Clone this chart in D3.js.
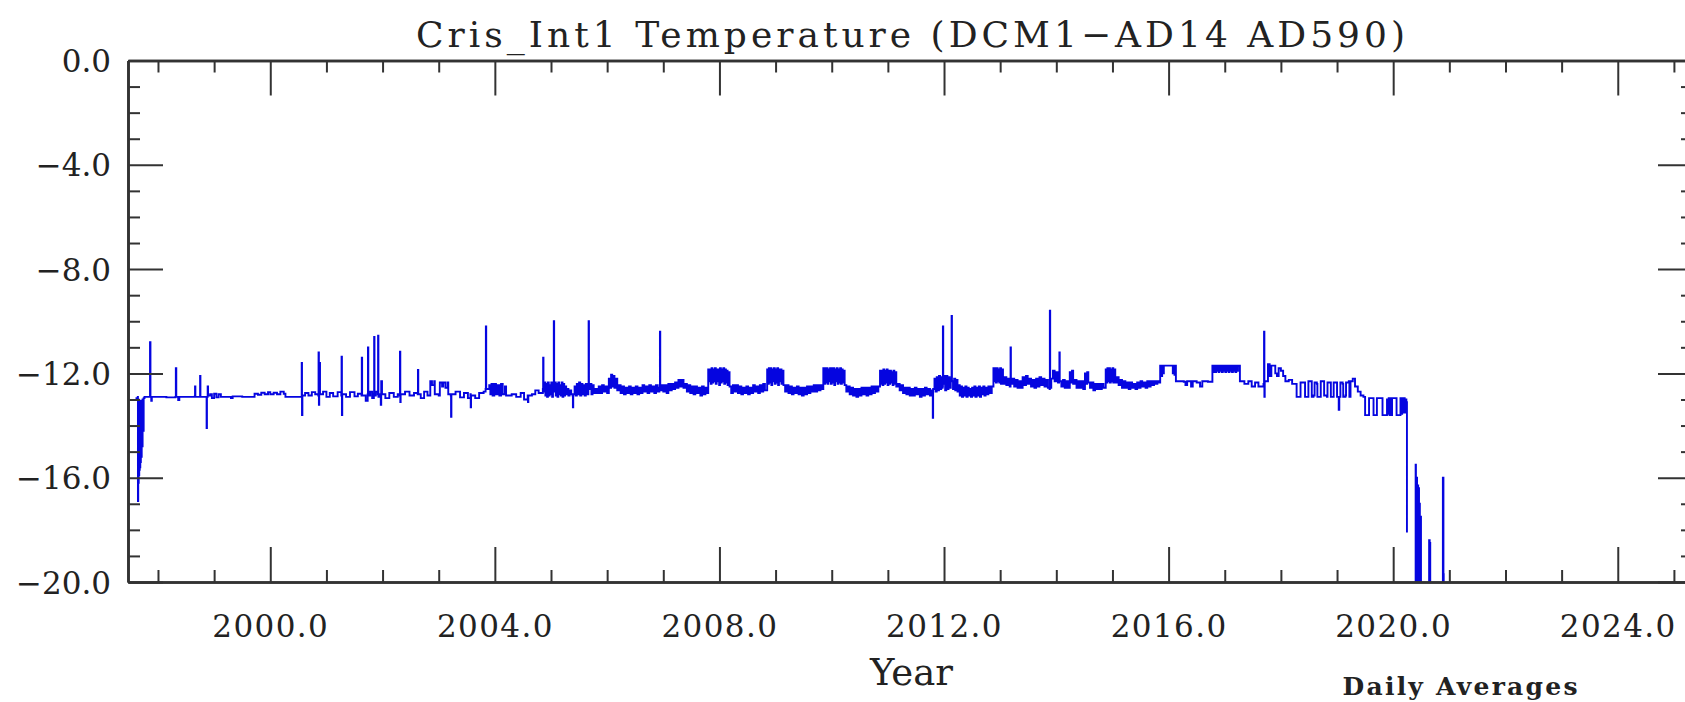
<!DOCTYPE html>
<html>
<head>
<meta charset="utf-8">
<script src="https://cdn.jsdelivr.net/npm/d3@7"></script>
<style>
  html, body { margin: 0; padding: 0; background: #fff; }
  svg { display: block; }
  .axis text { font-family: "DejaVu Serif", serif; fill: #222; }
</style>
</head>
<body>
<svg id="chart" width="1685" height="702"></svg>
<script>
// ---------------- DATA ----------------
const chartTitle = "Cris_Int1 Temperature (DCM1\u2212AD14 AD590)";
const xAxisTitle = "Year";
const noteText = "Daily Averages";
const xDomain = [1997.466, 2025.34];
const yDomain = [-20, 0];
const xMajorTicks = [2000, 2004, 2008, 2012, 2016, 2020, 2024];
const xMinorTicks = [1998,1999,2001,2002,2003,2005,2006,2007,2009,2010,2011,2013,2014,2015,2017,2018,2019,2021,2022,2023,2025];
const yMajorTicks = [0, -4, -8, -12, -16, -20];
const yMinorTicks = [-1,-2,-3,-5,-6,-7,-9,-10,-11,-13,-14,-15,-17,-18,-19];

// daily average temperature samples [year, degC] (null = data gap)
const era1997 = [
  [1997.600,-12.95],[1997.640,-12.90],[1997.643,-16.90],[1997.648,-13.00],[1997.652,-16.20],[1997.657,-13.05],
  [1997.661,-15.90],[1997.666,-13.05],[1997.670,-15.70],[1997.675,-13.05],[1997.680,-15.60],[1997.685,-13.05],
  [1997.690,-15.40],[1997.695,-13.05],[1997.702,-15.20],[1997.710,-13.05],[1997.718,-14.80],[1997.726,-13.00],
  [1997.735,-14.20],[1997.745,-12.95],[1997.760,-12.90],
  [1997.850,-12.90],[1997.858,-10.80],[1997.866,-12.90],[1997.880,-13.05],[1997.890,-12.90],
  [1998.000,-12.90],[1998.150,-12.92],[1998.310,-12.90],[1998.318,-11.80],[1998.326,-12.90],[1998.360,-13.02],[1998.380,-12.90],
  [1998.600,-12.90],[1998.655,-12.88],[1998.660,-12.50],[1998.666,-12.90],[1998.745,-12.90],[1998.750,-12.10],[1998.756,-12.90],
  [1998.860,-12.90],[1998.866,-14.10],[1998.872,-12.90],[1998.885,-12.50],[1998.892,-12.85],
  [1998.930,-12.80],[1998.960,-12.95],[1999.000,-12.78],[1999.040,-12.92],[1999.080,-12.80],[1999.120,-12.90],
  [1999.200,-12.90],[1999.300,-12.95],[1999.330,-12.88],[1999.500,-12.90],[1999.700,-12.90],[1999.720,-12.78],
  [1999.780,-12.82],[1999.840,-12.74],[1999.900,-12.80],[1999.960,-12.72],[2000.000,-12.80]
];
const era2000 = [
  [2000.060,-12.74],[2000.120,-12.80],[2000.180,-12.70],[2000.240,-12.78],[2000.270,-12.90],[2000.500,-12.90],
  [2000.555,-12.90],[2000.560,-11.60],[2000.565,-13.60],[2000.572,-12.85],[2000.620,-12.75],[2000.680,-12.85],
  [2000.740,-12.72],[2000.800,-12.80],[2000.855,-12.85],[2000.860,-11.20],[2000.866,-13.20],[2000.872,-12.80],
  [2000.880,-11.60],[2000.886,-12.80],[2000.940,-12.70],[2001.000,-12.90],[2001.060,-12.75],[2001.120,-12.88],
  [2001.200,-12.72],[2001.265,-12.85],[2001.270,-11.36],[2001.276,-13.60],[2001.282,-12.80],[2001.350,-12.90],
  [2001.420,-12.72],[2001.500,-12.88],[2001.560,-12.78],[2001.625,-12.85],[2001.630,-11.40],[2001.636,-12.85],
  [2001.700,-13.05],[2001.735,-12.80],[2001.740,-11.00],[2001.746,-12.85],[2001.780,-12.70],[2001.815,-12.95],
  [2001.845,-12.80],[2001.850,-10.60],[2001.856,-12.85],[2001.880,-12.70],[2001.915,-12.80],[2001.920,-10.55],
  [2001.926,-12.90],[2001.960,-12.80],[2001.968,-13.20],[2001.976,-12.30],[2001.990,-12.80],[2002.050,-12.95],
  [2002.120,-12.75],[2002.200,-12.90],[2002.270,-12.80],[2002.305,-12.85],[2002.310,-11.17],[2002.316,-13.10],
  [2002.322,-12.80],[2002.400,-12.70],[2002.480,-12.85]
];
const era2002 = [
  [2002.560,-12.75],[2002.625,-12.80],[2002.630,-11.87],[2002.636,-12.80],[2002.680,-12.95],[2002.740,-12.70],
  [2002.800,-12.85],[2002.850,-12.30],[2002.880,-12.45],[2002.920,-12.30],[2002.930,-12.80],[2003.000,-12.85],
  [2003.020,-12.35],[2003.060,-12.50],[2003.080,-12.35],[2003.120,-12.55],[2003.160,-12.35],[2003.170,-12.80],
  [2003.215,-12.85],[2003.220,-13.66],[2003.226,-12.80],[2003.300,-12.70],[2003.380,-12.92],[2003.450,-12.75],
  [2003.520,-12.95],[2003.565,-12.80],[2003.570,-13.30],[2003.576,-12.85],[2003.650,-12.95],[2003.720,-12.75],
  [2003.800,-12.70],[2003.835,-12.60],[2003.840,-10.20],[2003.846,-12.60],[2003.900,-12.45],[2003.920,-12.80],
  [2003.940,-12.40],[2003.960,-12.85],[2003.990,-12.40],[2004.020,-12.80],[2004.050,-12.45],[2004.080,-12.85],
  [2004.110,-12.40],[2004.140,-12.80],[2004.180,-12.50],[2004.200,-12.85],[2004.300,-12.80],[2004.380,-12.90],
  [2004.460,-12.75],[2004.520,-13.00],[2004.585,-12.85],[2004.590,-13.10],[2004.596,-12.85],[2004.660,-12.80],
  [2004.720,-12.65],[2004.780,-12.75],[2004.855,-12.60],[2004.860,-11.40],[2004.866,-12.70]
];
const era2005 = [
  [2004.880,-12.35],[2004.900,-12.85],[2004.915,-12.40],[2004.930,-12.90],[2004.945,-12.35],[2004.960,-12.85],
  [2004.975,-12.45],[2004.990,-12.80],[2005.005,-12.35],[2005.020,-12.90],[2005.035,-12.40],[2005.045,-12.70],
  [2005.050,-10.00],[2005.056,-12.70],[2005.070,-12.35],[2005.085,-12.85],[2005.100,-12.40],[2005.115,-12.90],
  [2005.130,-12.35],[2005.145,-12.80],[2005.160,-12.45],[2005.175,-12.85],[2005.190,-12.35],[2005.205,-12.90],
  [2005.220,-12.40],[2005.235,-12.85],[2005.250,-12.50],[2005.270,-12.80],[2005.290,-12.60],[2005.310,-12.85],
  [2005.330,-12.65],[2005.360,-12.80],[2005.385,-12.85],[2005.390,-13.30],[2005.396,-12.80],[2005.420,-12.50],
  [2005.440,-12.85],[2005.460,-12.40],[2005.480,-12.80],[2005.500,-12.35],[2005.520,-12.85],[2005.540,-12.40],
  [2005.560,-12.80],[2005.580,-12.45],[2005.600,-12.85],[2005.620,-12.40],[2005.640,-12.80],[2005.665,-12.50],
  [2005.670,-10.00],[2005.676,-12.60],[2005.700,-12.40],[2005.720,-12.80],[2005.740,-12.45],[2005.760,-12.75],
  [2005.790,-12.60],[2005.820,-12.75]
];
const era2006 = [
  [2005.850,-12.50],[2005.880,-12.75],[2005.910,-12.45],[2005.940,-12.70],[2005.970,-12.50],[2006.000,-12.75],
  [2006.030,-12.20],[2006.050,-12.55],[2006.070,-12.05],[2006.090,-12.50],[2006.110,-12.10],[2006.130,-12.55],
  [2006.150,-12.20],[2006.180,-12.65],[2006.210,-12.45],[2006.240,-12.75],[2006.270,-12.50],[2006.300,-12.80],
  [2006.330,-12.55],[2006.360,-12.75],[2006.390,-12.50],[2006.420,-12.80],[2006.450,-12.55],[2006.480,-12.75],
  [2006.510,-12.50],[2006.540,-12.80],[2006.570,-12.55],[2006.600,-12.75],[2006.630,-12.45],[2006.660,-12.70],
  [2006.690,-12.50],[2006.720,-12.75],[2006.750,-12.45],[2006.780,-12.70],[2006.810,-12.50],[2006.840,-12.75],
  [2006.870,-12.45],[2006.900,-12.70],[2006.930,-12.55],[2006.940,-10.40],[2006.946,-12.65],[2006.970,-12.45],
  [2007.000,-12.70],[2007.030,-12.45],[2007.060,-12.75],[2007.090,-12.40],[2007.120,-12.65],[2007.150,-12.40],
  [2007.180,-12.60],[2007.210,-12.35],[2007.240,-12.55],[2007.270,-12.25],[2007.300,-12.50],[2007.330,-12.25],
  [2007.360,-12.55],[2007.390,-12.40],[2007.420,-12.70],[2007.450,-12.45],[2007.480,-12.75],[2007.510,-12.50],
  [2007.540,-12.80],[2007.570,-12.50],[2007.600,-12.75],[2007.630,-12.55],[2007.660,-12.85],[2007.690,-12.50],
  [2007.720,-12.80],[2007.750,-12.55],[2007.780,-12.75]
];
const box2008 = [
  [2007.800,-11.85],[2007.815,-12.30],[2007.830,-11.85],[2007.845,-12.40],[2007.860,-11.80],[2007.875,-12.35],
  [2007.890,-11.85],[2007.905,-12.30],[2007.920,-11.80],[2007.935,-12.40],[2007.950,-11.85],[2007.965,-12.30],
  [2007.980,-11.85],[2007.995,-12.45],[2008.010,-11.80],[2008.025,-12.35],[2008.040,-11.85],[2008.055,-12.30],
  [2008.070,-11.80],[2008.085,-12.40],[2008.100,-11.85],[2008.115,-12.35],[2008.130,-11.90],[2008.145,-12.45],
  [2008.160,-11.95],[2008.180,-12.50],[2008.210,-12.75],[2008.240,-12.45],[2008.270,-12.70],[2008.300,-12.45],
  [2008.330,-12.75],[2008.360,-12.50],[2008.390,-12.80],[2008.420,-12.55],[2008.450,-12.75],[2008.480,-12.50],
  [2008.510,-12.80],[2008.540,-12.55],[2008.570,-12.75],[2008.600,-12.45],[2008.630,-12.70],[2008.660,-12.50],
  [2008.690,-12.75],[2008.720,-12.45],[2008.750,-12.70],[2008.780,-12.40],[2008.810,-12.65]
];
const box2009 = [
  [2008.850,-11.85],[2008.865,-12.40],[2008.880,-11.80],[2008.895,-12.35],[2008.910,-11.80],[2008.925,-12.45],
  [2008.940,-11.85],[2008.955,-12.30],[2008.970,-11.80],[2008.985,-12.40],[2009.000,-11.85],[2009.015,-12.35],
  [2009.030,-11.80],[2009.045,-12.45],[2009.060,-11.85],[2009.075,-12.30],[2009.090,-11.85],[2009.105,-12.40],
  [2009.120,-11.90],[2009.140,-12.45],[2009.170,-12.70],[2009.200,-12.45],[2009.230,-12.75],[2009.260,-12.50],
  [2009.290,-12.80],[2009.320,-12.55],[2009.350,-12.75],[2009.380,-12.50],[2009.410,-12.80],[2009.440,-12.55],
  [2009.470,-12.85],[2009.500,-12.55],[2009.530,-12.80],[2009.560,-12.50],[2009.590,-12.75],[2009.620,-12.50],
  [2009.650,-12.70],[2009.680,-12.45],[2009.710,-12.70],[2009.740,-12.45],[2009.770,-12.65],[2009.800,-12.45],
  [2009.830,-12.60]
];
const box2010 = [
  [2009.850,-11.80],[2009.865,-12.40],[2009.880,-11.80],[2009.895,-12.35],[2009.910,-11.80],[2009.925,-12.40],
  [2009.940,-11.85],[2009.955,-12.30],[2009.970,-11.80],[2009.985,-12.40],[2010.000,-11.80],[2010.015,-12.35],
  [2010.030,-11.80],[2010.045,-12.45],[2010.060,-11.85],[2010.075,-12.30],[2010.090,-11.80],[2010.105,-12.40],
  [2010.120,-11.85],[2010.135,-12.35],[2010.150,-11.80],[2010.165,-12.40],[2010.180,-11.85],[2010.195,-12.35],
  [2010.210,-11.90],[2010.230,-12.45],[2010.260,-12.70],[2010.290,-12.50],[2010.320,-12.80],[2010.350,-12.55],
  [2010.380,-12.85],[2010.410,-12.60],[2010.440,-12.90],[2010.470,-12.60],[2010.500,-12.85],[2010.530,-12.55],
  [2010.560,-12.80],[2010.590,-12.55],[2010.620,-12.85],[2010.650,-12.55],[2010.680,-12.80],[2010.710,-12.50],
  [2010.740,-12.75],[2010.770,-12.50],[2010.800,-12.70],[2010.830,-12.50]
];
const box2011 = [
  [2010.860,-11.90],[2010.875,-12.40],[2010.890,-11.90],[2010.905,-12.45],[2010.920,-11.85],[2010.935,-12.40],
  [2010.950,-11.90],[2010.965,-12.35],[2010.980,-11.85],[2010.995,-12.45],[2011.010,-11.90],[2011.025,-12.40],
  [2011.040,-11.90],[2011.055,-12.35],[2011.070,-11.95],[2011.085,-12.45],[2011.100,-11.90],[2011.115,-12.40],
  [2011.130,-11.95],[2011.150,-12.50],[2011.180,-12.40],[2011.210,-12.65],[2011.240,-12.45],[2011.270,-12.75],
  [2011.300,-12.55],[2011.330,-12.80],[2011.360,-12.55],[2011.390,-12.85],[2011.420,-12.60],[2011.450,-12.85],
  [2011.480,-12.55],[2011.510,-12.80],[2011.540,-12.60],[2011.570,-12.90],[2011.600,-12.60],[2011.630,-12.85],
  [2011.660,-12.55],[2011.690,-12.80],[2011.720,-12.60],[2011.750,-12.85],[2011.780,-12.65],[2011.800,-13.70],
  [2011.806,-12.60]
];
const band2012 = [
  [2011.830,-12.20],[2011.850,-12.70],[2011.870,-12.15],[2011.890,-12.65],[2011.910,-12.10],[2011.930,-12.60],
  [2011.950,-12.15],[2011.970,-12.55],[2011.975,-12.50],[2011.980,-10.20],[2011.986,-12.40],[2012.000,-12.10],
  [2012.020,-12.65],[2012.040,-12.10],[2012.060,-12.60],[2012.080,-12.15],[2012.100,-12.55],[2012.120,-12.20],
  [2012.135,-9.80],[2012.141,-12.30],[2012.160,-12.60],[2012.180,-12.20],[2012.200,-12.65],[2012.220,-12.25],
  [2012.240,-12.70],[2012.260,-12.45],[2012.280,-12.85],[2012.300,-12.50],[2012.320,-12.90],[2012.340,-12.55],
  [2012.360,-12.85],[2012.380,-12.50],[2012.400,-12.90],[2012.420,-12.55],[2012.440,-12.85],[2012.460,-12.60],
  [2012.480,-12.90],[2012.500,-12.55],[2012.520,-12.85],[2012.540,-12.50],[2012.560,-12.90],[2012.580,-12.55],
  [2012.600,-12.85],[2012.620,-12.50],[2012.640,-12.90],[2012.660,-12.55],[2012.680,-12.80],[2012.700,-12.50],
  [2012.720,-12.85],[2012.740,-12.55],[2012.760,-12.80],[2012.790,-12.50],[2012.820,-12.75],[2012.850,-12.50]
];
const era2013 = [
  [2012.880,-11.80],[2012.895,-12.30],[2012.910,-11.80],[2012.925,-12.35],[2012.940,-11.80],[2012.955,-12.30],
  [2012.970,-11.85],[2012.985,-12.35],[2013.000,-11.80],[2013.015,-12.40],[2013.030,-11.85],[2013.050,-12.40],
  [2013.080,-12.15],[2013.110,-12.45],[2013.140,-12.20],[2013.170,-12.50],[2013.185,-11.00],[2013.191,-12.40],
  [2013.220,-12.20],[2013.250,-12.50],[2013.280,-12.25],[2013.310,-12.55],[2013.340,-12.30],[2013.370,-12.55],
  [2013.400,-12.15],[2013.430,-12.45],[2013.460,-12.10],[2013.490,-12.40],[2013.520,-12.20],[2013.550,-12.50],
  [2013.580,-12.25],[2013.610,-12.55],[2013.640,-12.20],[2013.670,-12.50],[2013.700,-12.15],[2013.730,-12.45],
  [2013.760,-12.20],[2013.790,-12.50],[2013.820,-12.25],[2013.850,-12.55],[2013.880,-12.60],[2013.885,-9.60],
  [2013.891,-12.55],[2013.910,-12.20],[2013.940,-11.90],[2013.970,-12.30],[2014.000,-11.95],[2014.030,-12.35],
  [2014.050,-12.10],[2014.055,-11.20],[2014.061,-12.30],[2014.090,-12.50],[2014.120,-12.25],[2014.150,-12.55],
  [2014.180,-12.30],[2014.210,-12.55],[2014.240,-11.95],[2014.260,-12.35],[2014.280,-11.90],[2014.300,-12.40],
  [2014.330,-12.25],[2014.360,-12.55],[2014.390,-12.30],[2014.420,-12.55],[2014.450,-12.30],[2014.480,-12.60],
  [2014.510,-12.00],[2014.530,-12.40],[2014.550,-11.95],[2014.570,-12.35],[2014.600,-12.55],[2014.630,-12.35],
  [2014.660,-12.65],[2014.690,-12.40],[2014.720,-12.60],[2014.750,-12.40],[2014.780,-12.60],[2014.810,-12.40],
  [2014.840,-12.55]
];
const era2015 = [
  [2014.880,-11.85],[2014.895,-12.35],[2014.910,-11.80],[2014.925,-12.30],[2014.940,-11.80],[2014.955,-12.35],
  [2014.970,-11.85],[2014.985,-12.30],[2015.000,-11.80],[2015.015,-12.35],[2015.030,-11.85],[2015.050,-12.35],
  [2015.080,-12.15],[2015.110,-12.45],[2015.140,-12.25],[2015.170,-12.55],[2015.200,-12.30],[2015.230,-12.55],
  [2015.260,-12.35],[2015.290,-12.60],[2015.320,-12.35],[2015.350,-12.55],[2015.380,-12.40],[2015.410,-12.60],
  [2015.440,-12.35],[2015.470,-12.55],[2015.500,-12.30],[2015.530,-12.50],[2015.560,-12.35],[2015.590,-12.55],
  [2015.620,-12.30],[2015.650,-12.50],[2015.680,-12.30],[2015.710,-12.45],[2015.740,-12.30],[2015.770,-12.40],
  [2015.800,-12.30],[2015.830,-12.35]
];
const era2016 = [
  [2015.850,-11.70],[2015.870,-12.10],[2015.885,-11.70],[2015.900,-12.00],[2015.915,-11.70],[2016.060,-11.70],
  [2016.075,-12.00],[2016.090,-11.70],[2016.105,-12.05],[2016.120,-11.70],[2016.130,-12.30],[2016.270,-12.32],
  [2016.300,-12.45],[2016.330,-12.30],[2016.400,-12.50],[2016.430,-12.30],[2016.500,-12.35],[2016.560,-12.50],
  [2016.600,-12.30],[2016.700,-12.32],
  [2016.780,-11.70],[2016.800,-11.95],[2016.815,-11.70],[2016.830,-11.95],[2016.845,-11.70],[2016.860,-11.90],
  [2016.875,-11.70],[2016.890,-11.95],[2016.905,-11.70],[2016.920,-11.90],[2016.935,-11.70],[2016.950,-11.95],
  [2016.965,-11.70],[2016.980,-11.90],[2016.995,-11.70],[2017.010,-11.95],[2017.025,-11.70],[2017.040,-11.90],
  [2017.055,-11.70],[2017.070,-11.95],[2017.085,-11.70],[2017.100,-11.90],[2017.115,-11.70],[2017.130,-11.95],
  [2017.145,-11.70],[2017.160,-11.90],[2017.175,-11.70],[2017.190,-11.95],[2017.205,-11.70],[2017.220,-11.90],
  [2017.235,-11.70],[2017.270,-12.30],
  [2017.350,-12.40],[2017.420,-12.30],[2017.480,-12.50],[2017.540,-12.35],[2017.600,-12.50],[2017.690,-12.40],
  [2017.700,-10.40],[2017.706,-12.90],[2017.712,-12.30],
  [2017.770,-11.65],[2017.800,-12.10],[2017.830,-11.70],[2017.880,-11.70],[2017.900,-12.00],[2017.930,-12.10],
  [2017.960,-11.80],[2018.000,-11.90],[2018.040,-12.10],[2018.080,-12.30],[2018.140,-12.25],[2018.200,-12.40]
];
const era2018 = [
  [2018.280,-12.90],[2018.340,-12.90],[2018.350,-12.35],[2018.420,-12.35],[2018.430,-12.90],[2018.480,-12.90],
  [2018.490,-12.30],[2018.540,-12.30],[2018.550,-12.90],[2018.580,-12.85],[2018.600,-12.35],[2018.640,-12.40],
  [2018.650,-12.90],[2018.700,-12.90],[2018.710,-12.30],[2018.760,-12.30],[2018.770,-12.85],[2018.820,-12.90],
  [2018.830,-12.35],[2018.880,-12.35],[2018.890,-12.90],[2018.930,-12.90],[2018.940,-12.35],[2018.990,-12.35],
  [2019.000,-12.90],[2019.030,-13.40],[2019.040,-12.90],[2019.060,-12.35],[2019.100,-12.40],[2019.110,-12.90],
  [2019.150,-12.85],[2019.160,-12.35],[2019.210,-12.30],[2019.220,-12.90],[2019.240,-12.30],[2019.280,-12.20],
  [2019.320,-12.50],[2019.370,-12.70],[2019.420,-12.85],[2019.470,-12.90],
  [2019.500,-13.60],[2019.560,-13.60],[2019.570,-12.95],[2019.640,-12.95],[2019.650,-13.60],[2019.700,-13.60],
  [2019.710,-12.95],[2019.800,-12.95],[2019.810,-13.60],[2019.880,-13.60],[2019.890,-13.00],[2019.905,-13.55],
  [2019.920,-12.95],[2019.935,-13.60],[2019.950,-12.95],[2019.965,-13.60],[2019.980,-12.95],[2020.050,-12.95],
  [2020.060,-13.60],[2020.120,-13.60],[2020.130,-12.95],[2020.145,-13.55],[2020.160,-12.95],[2020.175,-13.50],
  [2020.190,-12.95],[2020.205,-13.50],[2020.220,-13.00]
];
const era2020 = [
  [2020.235,-13.10],[2020.245,-18.10],[2020.250,null],
  [2020.395,-23.00],[2020.400,-15.50],[2020.405,-22.00],[2020.420,-16.00],[2020.425,-22.00],
  [2020.440,-16.30],[2020.445,-22.00],[2020.455,-16.40],[2020.460,-22.00],[2020.470,-17.00],[2020.475,-22.00],
  [2020.490,-17.50],[2020.495,-22.00],[2020.600,-22.00],[2020.640,-18.40],[2020.650,-18.50],[2020.660,-22.00],
  [2020.870,-22.00],[2020.885,-16.00],[2020.895,-19.70],[2020.900,-22.00]
];

// ---------------- CHART ----------------
const svg = d3.select("#chart");
const W = 1685, H = 702;
const plot = { left: 128, right: 1693, top: 60.5, bottom: 582 };

svg.append("rect").attr("width", W).attr("height", H).attr("fill", "#fff");

const x = d3.scaleLinear().domain(xDomain).range([plot.left, plot.right]);
const y = d3.scaleLinear().domain(yDomain).range([plot.bottom, plot.top]);

svg.append("clipPath").attr("id", "clip")
  .append("rect")
  .attr("x", plot.left).attr("y", plot.top)
  .attr("width", plot.right - plot.left).attr("height", plot.bottom - plot.top);

const series = [].concat(era1997, era2000, era2002, era2005, era2006, box2008, box2009, box2010,
                         box2011, band2012, era2013, era2015, era2016, era2018, era2020);

const line = d3.line()
  .defined(d => d[1] !== null)
  .x(d => x(d[0])).y(d => y(d[1]))
  .curve(d3.curveStepAfter);

svg.append("path")
  .datum(series)
  .attr("clip-path", "url(#clip)")
  .attr("fill", "none")
  .attr("stroke", "#0505e0")
  .attr("stroke-width", 1.9)
  .attr("d", line);

const fmt = d3.format(".1f");
const MAJ = 35, MIN = 12;

function styleAxis(g, w) {
  g.selectAll("path.domain").attr("stroke", "#333").attr("stroke-width", 2.6).attr("fill", "none");
  g.selectAll(".tick line").attr("stroke", "#333").attr("stroke-width", w);
}

// bottom axis
const gB = svg.append("g").attr("class", "axis").attr("transform", `translate(0,${plot.bottom})`)
  .call(d3.axisBottom(x).tickValues(xMajorTicks).tickSize(-MAJ).tickSizeOuter(0).tickFormat(fmt));
gB.selectAll("text").attr("y", 55).attr("dy", null).attr("font-size", 31).attr("letter-spacing", 1.4);
styleAxis(gB, 2);
const gBm = svg.append("g").attr("class", "axis").attr("transform", `translate(0,${plot.bottom})`)
  .call(d3.axisBottom(x).tickValues(xMinorTicks).tickSize(-MIN).tickSizeOuter(0).tickFormat(""));
styleAxis(gBm, 2);

// top axis
const gT = svg.append("g").attr("class", "axis").attr("transform", `translate(0,${plot.top})`)
  .call(d3.axisTop(x).tickValues(xMajorTicks).tickSize(-MAJ).tickSizeOuter(0).tickFormat(""));
styleAxis(gT, 2);
const gTm = svg.append("g").attr("class", "axis").attr("transform", `translate(0,${plot.top})`)
  .call(d3.axisTop(x).tickValues(xMinorTicks).tickSize(-MIN).tickSizeOuter(0).tickFormat(""));
styleAxis(gTm, 2);

// left axis
const gL = svg.append("g").attr("class", "axis").attr("transform", `translate(${plot.left},0)`)
  .call(d3.axisLeft(y).tickValues(yMajorTicks).tickSize(-MAJ).tickSizeOuter(0).tickPadding(17).tickFormat(fmt));
gL.selectAll("text").attr("font-size", 31).attr("dy", "0.36em");
styleAxis(gL, 2);
const gLm = svg.append("g").attr("class", "axis").attr("transform", `translate(${plot.left},0)`)
  .call(d3.axisLeft(y).tickValues(yMinorTicks).tickSize(-MIN).tickSizeOuter(0).tickFormat(""));
styleAxis(gLm, 2);

// right axis
const gR = svg.append("g").attr("class", "axis").attr("transform", `translate(${plot.right},0)`)
  .call(d3.axisRight(y).tickValues(yMajorTicks).tickSize(-MAJ).tickSizeOuter(0).tickFormat(""));
styleAxis(gR, 2);
const gRm = svg.append("g").attr("class", "axis").attr("transform", `translate(${plot.right},0)`)
  .call(d3.axisRight(y).tickValues(yMinorTicks).tickSize(-MIN).tickSizeOuter(0).tickFormat(""));
styleAxis(gRm, 2);

// titles
const cx = (plot.left + plot.right) / 2;
svg.append("text")
  .attr("x", cx).attr("y", 47)
  .attr("text-anchor", "middle")
  .attr("font-family", "DejaVu Serif, serif").attr("font-size", 36)
  .attr("fill", "#222")
  .attr("textLength", 989).attr("lengthAdjust", "spacing")
  .text(chartTitle);

svg.append("text")
  .attr("x", cx + 1).attr("y", 685)
  .attr("text-anchor", "middle")
  .attr("font-family", "DejaVu Serif, serif").attr("font-size", 37)
  .attr("fill", "#222")
  .text(xAxisTitle);

svg.append("text")
  .attr("x", 1460).attr("y", 695)
  .attr("text-anchor", "middle")
  .attr("font-family", "DejaVu Serif, serif").attr("font-size", 25).attr("font-weight", "bold")
  .attr("fill", "#222")
  .attr("textLength", 235).attr("lengthAdjust", "spacing")
  .text(noteText);
</script>
</body>
</html>
